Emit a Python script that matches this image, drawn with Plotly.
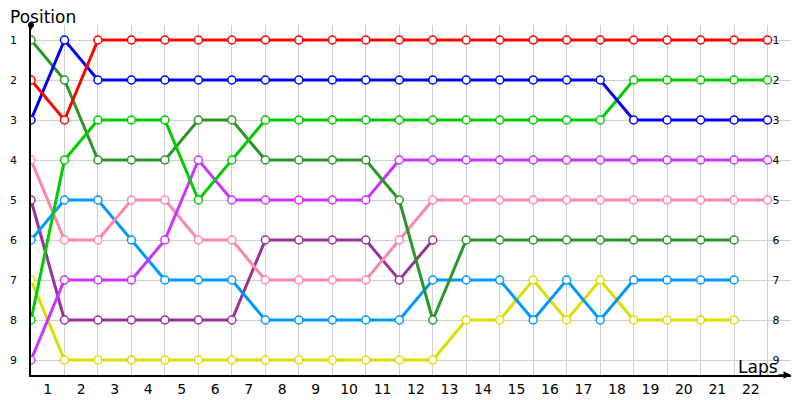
"""Race position chart: position of each car per lap."""
import plotly.graph_objects as go

laps = list(range(0, 23))
lap_labels = [str(i) for i in range(1, 23)]
positions = list(range(1, 10))

red = [2, 3, 1, 1, 1, 1, 1, 1, 1, 1, 1, 1, 1, 1, 1, 1, 1, 1, 1, 1, 1, 1, 1]
blue = [3, 1, 2, 2, 2, 2, 2, 2, 2, 2, 2, 2, 2, 2, 2, 2, 2, 2, 3, 3, 3, 3, 3]
green = [8, 4, 3, 3, 3, 5, 4, 3, 3, 3, 3, 3, 3, 3, 3, 3, 3, 3, 2, 2, 2, 2, 2]
dark_green = [1, 2, 4, 4, 4, 3, 3, 4, 4, 4, 4, 5, 8, 6, 6, 6, 6, 6, 6, 6, 6, 6]
pink = [4, 6, 6, 5, 5, 6, 6, 7, 7, 7, 7, 6, 5, 5, 5, 5, 5, 5, 5, 5, 5, 5, 5]
sky = [6, 5, 5, 6, 7, 7, 7, 8, 8, 8, 8, 8, 7, 7, 7, 8, 7, 8, 7, 7, 7, 7]
yellow = [7, 9, 9, 9, 9, 9, 9, 9, 9, 9, 9, 9, 9, 8, 8, 7, 8, 7, 8, 8, 8, 8]
plum = [5, 8, 8, 8, 8, 8, 8, 6, 6, 6, 6, 7, 6]
violet = [9, 7, 7, 7, 6, 4, 5, 5, 5, 5, 5, 4, 4, 4, 4, 4, 4, 4, 4, 4, 4, 4, 4]

series = [
    (plum, '#993399'),
    (yellow, '#dddd00'),
    (sky, '#0099ff'),
    (pink, '#ff88aa'),
    (violet, '#cc33ff'),
    (dark_green, '#2a962a'),
    (green, '#00cc00'),
    (blue, '#0000ff'),
    (red, '#ff0000'),
]

fig = go.Figure()

for vals, col in series:
    fig.add_trace(go.Scatter(
        x=laps[:len(vals)], y=vals,
        mode='lines+markers',
        line=dict(color=col, width=3),
        marker=dict(size=8, color='white', line=dict(color=col, width=1.5)),
        showlegend=False,
        hoverinfo='skip',
    ))

xr = [0, 22.7]
yr = [9.375, 0.625]

# page body adds an 8px offset, so margins are trimmed to compensate
fig.update_layout(
    width=800, height=400,
    margin=dict(l=23, r=17, t=17, b=33, autoexpand=False),
    plot_bgcolor='white',
    paper_bgcolor='white',
    font=dict(family='DejaVu Sans', color='black'),

    # gridlines at every lap
    xaxis=dict(
        range=xr, tickmode='array', tickvals=laps, showticklabels=False,
        showgrid=True, gridcolor='#d0d0d0', gridwidth=1, automargin=False,
        zeroline=False, showline=False, ticks='',
    ),
    # lap labels sit between gridlines
    xaxis2=dict(
        range=xr, overlaying='x', anchor='y', side='bottom',
        tickmode='array', tickvals=[i + 0.5 for i in range(22)], ticktext=lap_labels,
        tickfont=dict(size=14), showgrid=False, zeroline=False, automargin=False,
        showline=True, linecolor='black', linewidth=1.5, ticks='',
    ),
    yaxis=dict(
        range=yr, tickmode='array', tickvals=positions,
        tickfont=dict(size=11), ticklabelstandoff=10, automargin=False,
        showgrid=True, gridcolor='#d0d0d0', gridwidth=1,
        zeroline=False, showline=True, linecolor='black', linewidth=1.5, ticks='',
    ),
    yaxis2=dict(
        range=yr, overlaying='y', anchor='free', side='right',
        position=22 / 22.7, automargin=False,
        tickmode='array', tickvals=positions,
        tickfont=dict(size=11), ticklabelstandoff=4,
        showgrid=False, zeroline=False, showline=False, ticks='',
    ),

    annotations=[
        dict(text='Position', xref='paper', yref='paper', x=-0.03, y=1.0,
             xanchor='left', yanchor='bottom', yshift=-4, showarrow=False,
             font=dict(size=17)),
        dict(text='Laps', xref='paper', yref='paper', x=0.985, y=0.0,
             xanchor='right', yanchor='bottom', yshift=-4, showarrow=False,
             font=dict(size=17)),
        # axis arrow heads
        dict(xref='paper', yref='paper', x=1.0, y=0.0, ax=-14, ay=0,
             text='', showarrow=True, arrowhead=2, arrowsize=1,
             arrowwidth=1.5, arrowcolor='black'),
        dict(xref='paper', yref='paper', x=0.0, y=1.0, ax=0, ay=6,
             text='', showarrow=True, arrowhead=6, arrowsize=1,
             arrowwidth=1.5, arrowcolor='black'),
    ],
)

# invisible traces so the label axes get drawn
fig.add_trace(go.Scatter(x=[], y=[], xaxis='x2', yaxis='y', showlegend=False))
fig.add_trace(go.Scatter(x=[], y=[], xaxis='x', yaxis='y2', showlegend=False))

fig.write_html("out.html")
